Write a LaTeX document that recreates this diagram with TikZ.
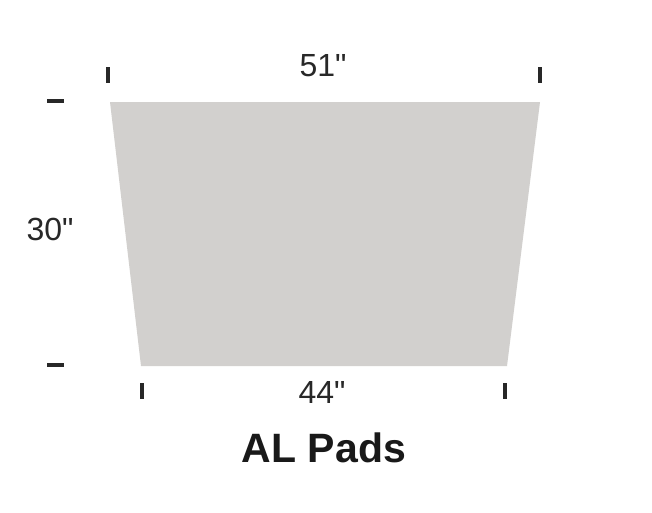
\documentclass[tikz,border=0pt]{standalone}
\usepackage{fontspec}
\setmainfont{Liberation Sans}
\newfontfamily\dimfont{Liberation Sans}
\definecolor{padgray}{RGB}{210,208,206}
\definecolor{inkc}{RGB}{40,40,40}
\begin{document}
\begin{tikzpicture}[x=1pt,y=-1pt,
  tick/.style={draw=inkc,line width=3.4pt},
  dim/.style={font=\dimfont\fontsize{32}{32}\selectfont,text=inkc,inner sep=0pt},
  title/.style={font=\fontsize{41}{41}\selectfont\bfseries,text=black!90,inner sep=0pt}]
\useasboundingbox (0,0) rectangle (652,512);
\fill[white] (0,0) rectangle (652,512);
\coordinate (tl) at (110,102);
\coordinate (tr) at (540,102);
\coordinate (br) at (507,366);
\coordinate (bl) at (141,366);
\fill[padgray] (tl) -- (tr) -- (br) -- (bl) -- cycle;
% ticks
\coordinate (t1a) at (108,67); \coordinate (t1b) at (108,83);
\coordinate (t2a) at (540,67); \coordinate (t2b) at (540,83);
\coordinate (b1a) at (142,383); \coordinate (b1b) at (142,399);
\coordinate (b2a) at (505,383); \coordinate (b2b) at (505,399);
\coordinate (l1a) at (47,101); \coordinate (l1b) at (64,101);
\coordinate (l2a) at (47,365); \coordinate (l2b) at (64,365);
\draw[tick] (t1a) -- (t1b);
\draw[tick] (t2a) -- (t2b);
\draw[tick] (b1a) -- (b1b);
\draw[tick] (b2a) -- (b2b);
\draw[tick] (l1a) -- (l1b);
\draw[tick] (l2a) -- (l2b);
\node[dim] (w51) at (323,66) {51"};
\node[dim] (h30) at (50,229) {30"};
\node[dim] (w44) at (322,392) {44"};
\node[title] (ttl) at (324,448) {AL Pads};
\end{tikzpicture}
\end{document}
